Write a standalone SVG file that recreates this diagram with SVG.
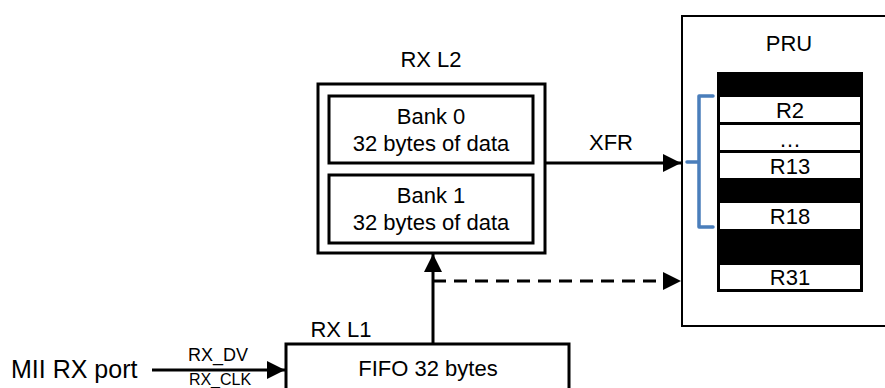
<svg xmlns="http://www.w3.org/2000/svg" width="885" height="388" viewBox="0 0 885 388">
<defs>
<style>
text{font-family:"Liberation Sans",Arial,sans-serif;fill:#000}
.box{fill:#fff;stroke:#000;stroke-width:3}
.t{font-size:22px;text-anchor:middle}
.ln{stroke:#000;stroke-width:3;fill:none}
</style>
<marker id="ah" viewBox="0 0 10 10" refX="10" refY="5" markerWidth="6" markerHeight="6" markerUnits="strokeWidth" orient="auto">
<path d="M0,0 L10,5 L0,10 z" fill="#000"/>
</marker>
</defs>
<rect width="885" height="388" fill="#fff"/>

<g id="pru">
<rect x="682" y="16" width="230" height="310" fill="#fff" stroke="#000" stroke-width="2"/>
<text class="t" x="789" y="51">PRU</text>
<rect x="717" y="72" width="146" height="220" fill="#000"/>
<rect x="720" y="97" width="140" height="25" fill="#fff"/>
<rect x="720" y="125" width="140" height="25" fill="#fff"/>
<rect x="720" y="153" width="140" height="25" fill="#fff"/>
<rect x="720" y="203" width="140" height="26" fill="#fff"/>
<rect x="720" y="265" width="140" height="24" fill="#fff"/>
<text class="t" x="790" y="118">R2</text>
<text class="t" x="790" y="147">…</text>
<text class="t" x="790" y="174">R13</text>
<text class="t" x="790" y="224">R18</text>
<text class="t" x="790" y="285">R31</text>
<path d="M713,96 H699 V227 H713 M699,162 H687" fill="none" stroke="#4a7ebb" stroke-width="3.5" stroke-linejoin="round" stroke-linecap="round"/>
</g>

<g id="rxl2">
<text class="t" x="431" y="67">RX L2</text>
<rect class="box" x="318" y="84" width="227" height="169"/>
<g id="bank0">
<rect class="box" x="329" y="96" width="204" height="67"/>
<text class="t" x="431" y="124">Bank 0</text>
<text class="t" x="431" y="151">32 bytes of data</text>
</g>
<g id="bank1">
<rect class="box" x="329" y="175" width="204" height="68"/>
<text class="t" x="431" y="203">Bank 1</text>
<text class="t" x="431" y="230">32 bytes of data</text>
</g>
</g>

<g id="rxl1">
<text class="t" x="341" y="337">RX L1</text>
<rect class="box" x="286" y="344" width="283" height="60"/>
<text class="t" x="428" y="376">FIFO 32 bytes</text>
</g>

<g id="mii">
<text x="11" y="378" style="font-size:25px">MII RX port</text>
</g>

<g id="connectors">
<line class="ln" x1="433" y1="344" x2="433" y2="254" marker-end="url(#ah)"/>
<line class="ln" x1="433" y1="281" x2="681" y2="281" stroke-dasharray="13,8" marker-end="url(#ah)"/>
<line class="ln" x1="546" y1="163" x2="681" y2="163" marker-end="url(#ah)"/>
<text class="t" x="611" y="150">XFR</text>
<line class="ln" x1="152" y1="370" x2="285" y2="370" marker-end="url(#ah)"/>
<text class="t" x="218" y="361" style="font-size:18px">RX_DV</text>
<text class="t" x="220" y="385" style="font-size:16px">RX_CLK</text>
</g>
</svg>
